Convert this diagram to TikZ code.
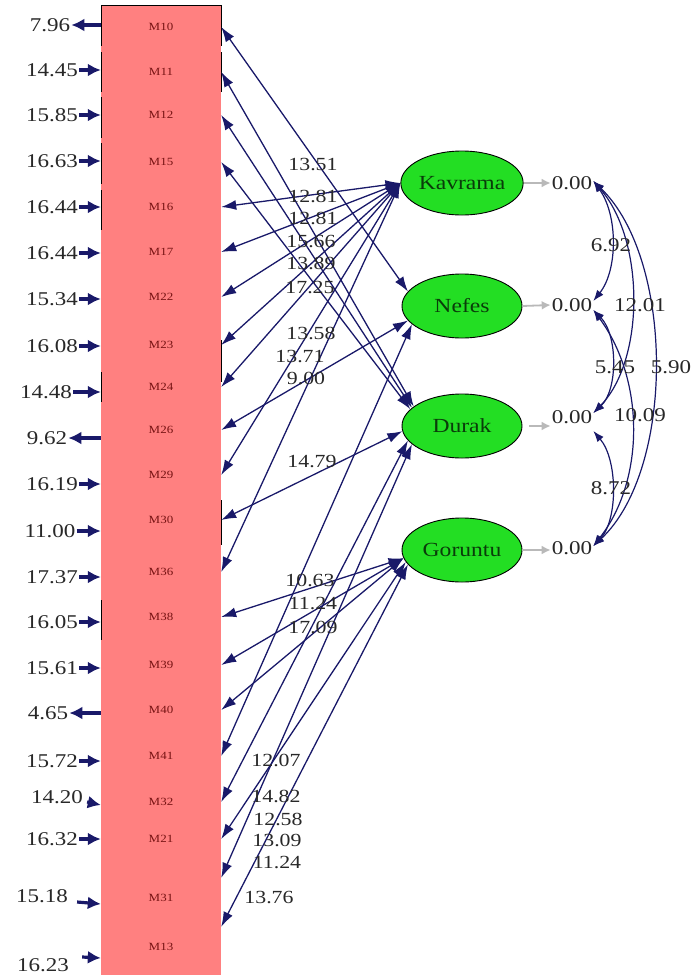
\documentclass[tikz,border=0pt]{standalone}
\usepackage{fontspec}
\setmainfont{Liberation Serif}[FakeStretch=1.18]
\usetikzlibrary{arrows.meta,calc,shapes.geometric}
\definecolor{navy}{RGB}{25,25,105}
\definecolor{pinkbox}{RGB}{255,128,128}
\definecolor{grn}{RGB}{35,222,35}
\definecolor{dkgreen}{RGB}{10,60,10}
\definecolor{dkred}{RGB}{120,20,20}
\definecolor{numc}{RGB}{40,40,40}
\definecolor{lgray}{RGB}{185,185,185}
\begin{document}
\begin{tikzpicture}[x=1pt,y=-1pt,
  ind/.style={minimum width=120pt,minimum height=40pt,inner sep=0pt,text=dkred,font=\fontsize{11}{12}\selectfont},
  num/.style={inner sep=1pt,text=numc,font=\fontsize{19.5}{20}\selectfont},
  mid/.style={inner sep=1pt,text=numc,font=\fontsize{18.5}{19}\selectfont},
  lat/.style={ellipse,draw=black,line width=0.9pt,fill=grn,minimum width=120pt,minimum height=64pt,inner sep=0pt,text=dkgreen,font=\fontsize{20}{21}\selectfont},
  err/.style={navy,line width=3.2pt,-{Latex[length=13pt,width=13pt]}},
  load/.style={navy,line width=1.3pt,{Latex[length=15pt,width=10pt]}-{Latex[length=15pt,width=10pt]}},
  cov/.style={navy,line width=1.2pt,{Latex[length=11pt,width=8pt]}-{Latex[length=11pt,width=8pt]}},
  var/.style={lgray,line width=1.8pt,-{Latex[length=9pt,width=9pt]}},
  edge/.style={black,line width=0.7pt}
]
\useasboundingbox (0,0) rectangle (700,975);
% stacked indicator boxes
\fill[pinkbox] (101,5) rectangle (221,975);
\draw[edge] (101,5) -- (221,5);
\draw[edge] (101,5) -- (101,46) (101,52) -- (101,92) (101,97) -- (101,138) (101,143) -- (101,184) (101,190) -- (101,230);
\draw[edge] (221,5) -- (221,46) (221,52) -- (221,92);
\draw[edge] (101,372) -- (101,402) (101,600) -- (101,640);
\draw[edge] (221,340) -- (221,382) (221,500) -- (221,545);

\node[ind] (m10) at (161,27) {M10};
\node[ind] (m11) at (161,72) {M11};
\node[ind] (m12) at (161,115) {M12};
\node[ind] (m15) at (161,162) {M15};
\node[ind] (m16) at (161,207) {M16};
\node[ind] (m17) at (161,252) {M17};
\node[ind] (m22) at (161,297) {M22};
\node[ind] (m23) at (161,345) {M23};
\node[ind] (m24) at (161,387) {M24};
\node[ind] (m26) at (161,430) {M26};
\node[ind] (m29) at (161,475) {M29};
\node[ind] (m30) at (161,520) {M30};
\node[ind] (m36) at (161,572) {M36};
\node[ind] (m38) at (161,617) {M38};
\node[ind] (m39) at (161,665) {M39};
\node[ind] (m40) at (161,710) {M40};
\node[ind] (m41) at (161,756) {M41};
\node[ind] (m32) at (161,802) {M32};
\node[ind] (m21) at (161,839) {M21};
\node[ind] (m31) at (161,898) {M31};
\node[ind] (m13) at (161,947) {M13};

% error variances
\node[num] (e10) at (50,25) {7.96};
\node[num] (e11) at (52,70) {14.45};
\node[num] (e12) at (52,115) {15.85};
\node[num] (e15) at (52,161) {16.63};
\node[num] (e16) at (52,207) {16.44};
\node[num] (e17) at (52,253) {16.44};
\node[num] (e22) at (52,299) {15.34};
\node[num] (e23) at (52,346) {16.08};
\node[num] (e24) at (46,392) {14.48};
\node[num] (e26) at (47,438) {9.62};
\node[num] (e29) at (52,484) {16.19};
\node[num] (e30) at (50,531) {11.00};
\node[num] (e36) at (52,577) {17.37};
\node[num] (e38) at (52,622) {16.05};
\node[num] (e39) at (52,668) {15.61};
\node[num] (e40) at (48,713) {4.65};
\node[num] (e41) at (52,761) {15.72};
\node[num] (e32) at (57,797) {14.20};
\node[num] (e21) at (52,839) {16.32};
\node[num] (e31) at (42,896) {15.18};
\node[num] (e13) at (43,965) {16.23};

\draw[err] (m10.west |- e10.east) -- (e10.east);
\draw[err] (e11.east) -- (m11.west |- e11.east);
\draw[err] (e12.east) -- (m12.west |- e12.east);
\draw[err] (e15.east) -- (m15.west |- e15.east);
\draw[err] (e16.east) -- (m16.west |- e16.east);
\draw[err] (e17.east) -- (m17.west |- e17.east);
\draw[err] (e22.east) -- (m22.west |- e22.east);
\draw[err] (e23.east) -- (m23.west |- e23.east);
\draw[err] (e24.east) -- (m24.west |- e24.east);
\draw[err] (m26.west |- e26.east) -- (e26.east);
\draw[err] (e29.east) -- (m29.west |- e29.east);
\draw[err] (e30.east) -- (m30.west |- e30.east);
\draw[err] (e36.east) -- (m36.west |- e36.east);
\draw[err] (e38.east) -- (m38.west |- e38.east);
\draw[err] (e39.east) -- (m39.west |- e39.east);
\draw[err] (m40.west |- e40.east) -- (e40.east);
\draw[err] (e41.east) -- (m41.west |- e41.east);
\draw[err] ([xshift=3pt,yshift=-5pt]e32.east) -- ([yshift=-3pt]m32.west);
\draw[err] (e21.east) -- (m21.west |- e21.east);
\draw[err] ([xshift=8pt,yshift=-6pt]e31.east) -- ([yshift=-6pt]m31.west);
\draw[err] ([xshift=12pt,yshift=8pt]e13.east) -- ([yshift=-11pt]m13.west);

% latent variables
\node[lat] (kav) at (462,183) {Kavrama};
\node[lat] (nef) at (462,306) {Nefes};
\node[lat] (dur) at (462,426) {Durak};
\node[lat] (gor) at (462,550) {Goruntu};

\node[num] (k0) at (572,183) {0.00};
\node[num] (n0) at (572,305) {0.00};
\node[num] (d0) at (572,417) {0.00};
\node[num] (g0) at (572,548) {0.00};
\draw[var] (kav.east) -- (k0.west);
\draw[var] (nef.east) -- (n0.west);
\draw[var,shorten <=7pt] (dur.east) -- (d0.west |- dur.east);
\draw[var] (gor.east) -- (g0.west |- gor.east);

% loadings
\draw[load] (nef.165) -- (m10.east);
\draw[load] (dur.158) -- (m11.east);
\draw[load] (dur.160) -- (m12.east);
\draw[load] (dur.162) -- (m15.east);
\draw[load] (kav.west) -- (m16.east);
\draw[load] (kav.west) -- (m17.east);
\draw[load] (kav.west) -- (m22.east);
\draw[load] (kav.west) -- (m23.east);
\draw[load] (kav.west) -- (m24.east);
\draw[load] (nef.195) -- (m26.east);
\draw[load] (kav.west) -- (m29.east);
\draw[load] (dur.185) -- (m30.east);
\draw[load] (kav.west) -- (m36.east);
\draw[load] (gor.188) -- (m38.east);
\draw[load] (gor.188) -- (m39.east);
\draw[load] (gor.188) -- (m40.east);
\draw[load] (nef.200) -- (m41.east);
\draw[load] (dur.195) -- (m32.east);
\draw[load] (gor.192) -- (m21.east);
\draw[load] (dur.200) -- (m31.north east);
\draw[load] (gor.195) -- (m13.north east);

% loading values
\node[mid] (l1) at (313,165) {13.51};
\node[mid] (l2) at (313,196) {12.81};
\node[mid] (l3) at (313,218) {12.81};
\node[mid] (l4) at (311,242) {15.66};
\node[mid] (l5) at (311,263) {13.89};
\node[mid] (l6) at (310,288) {17.25};
\node[mid] (l7) at (311,333) {13.58};
\node[mid] (l8) at (300,356) {13.71};
\node[mid] (l9) at (306,378) {9.00};
\node[mid] (l10) at (312,461) {14.79};
\node[mid] (l11) at (310,580) {10.63};
\node[mid] (l12) at (313,603) {11.24};
\node[mid] (l13) at (313,627) {17.09};
\node[mid] (l14) at (276,760) {12.07};
\node[mid] (l15) at (276,796) {14.82};
\node[mid] (l16) at (278,819) {12.58};
\node[mid] (l17) at (277,840) {13.09};
\node[mid] (l18) at (277,862) {11.24};
\node[mid] (l19) at (269,897) {13.76};

% covariances
\draw[cov] ([yshift=2pt]k0.east) .. controls (618,215) and (618,270) .. ([yshift=4pt]n0.east);
\draw[cov] ([yshift=2pt]k0.east) .. controls (645,240) and (645,360) .. ([yshift=4pt]d0.east);
\draw[cov] ([yshift=2pt]k0.east) .. controls (675,260) and (675,470) .. ([yshift=2pt]g0.east);
\draw[cov] ([yshift=-5pt]n0.east) .. controls (618,335) and (618,390) .. ([yshift=4pt]d0.east);
\draw[cov] ([yshift=-5pt]n0.east) .. controls (645,380) and (645,480) .. ([yshift=2pt]g0.east);
\draw[cov] ([yshift=-14pt]d0.east) .. controls (618,460) and (618,520) .. ([yshift=2pt]g0.east);

\node[num] (c1) at (611,245) {6.92};
\node[num] (c2) at (640,305) {12.01};
\node[num] (c3) at (615,367) {5.45};
\node[num] (c4) at (671,367) {5.90};
\node[num] (c5) at (640,415) {10.09};
\node[num] (c6) at (611,488) {8.72};
\end{tikzpicture}
\end{document}
